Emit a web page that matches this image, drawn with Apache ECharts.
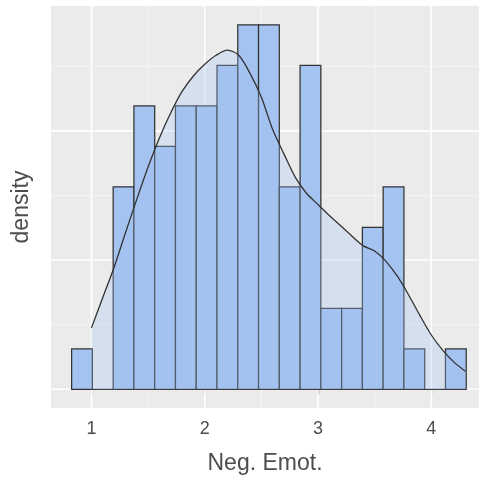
<!DOCTYPE html>
<html>
<head>
<meta charset="utf-8">
<script src="https://cdn.jsdelivr.net/npm/echarts@6/dist/echarts.min.js"></script>
<style>
html,body{margin:0;padding:0;background:#ffffff;}
#chart{width:479px;height:487px;}
</style>
</head>
<body>
<div id="chart"></div>
<script>
// Histogram: counts per bin, bins of equal width
const binCounts = [1, 0, 5, 7, 6, 7, 7, 8, 9, 9, 5, 8, 2, 2, 4, 5, 1, 0, 1];
const binStart = 0.825;
const binWidth = 3.3 / 18;

// Kernel density curve
const densityX = [1.0, 1.1, 1.2, 1.3, 1.4, 1.5, 1.6, 1.7, 1.8, 1.9, 2.0, 2.1, 2.2, 2.3, 2.4, 2.5, 2.6,
                  2.7, 2.8, 2.9, 3.0, 3.1, 3.2, 3.3, 3.4, 3.5, 3.6, 3.7, 3.8, 3.9, 4.0, 4.1, 4.2, 4.3];
const densityY = [0.095, 0.142, 0.189, 0.242, 0.294, 0.344, 0.389, 0.428, 0.461, 0.485, 0.503, 0.517, 0.525, 0.517,
                  0.489, 0.452, 0.402, 0.364, 0.328, 0.303, 0.286, 0.269, 0.253, 0.237, 0.222, 0.214, 0.198,
                  0.175, 0.146, 0.114, 0.084, 0.0605, 0.042, 0.028];

// Axis ticks / grid breaks
const xTickValues = [1, 2, 3, 4];
const xMinorBreaks = [1.5, 2.5, 3.5];
const yMajorBreaks = [0, 0.2, 0.4];
const yMinorBreaks = [0.1, 0.3, 0.5];

const nObs = binCounts.reduce((a, b) => a + b, 0);
const histData = binCounts.map((c, i) => [
  binStart + i * binWidth,
  binStart + (i + 1) * binWidth,
  c / (nObs * binWidth)
]);
const densityData = densityX.map((x, i) => [x, densityY[i]]);

const gridLineData = []
  .concat(xTickValues.map(v => [v, 0, 1]))
  .concat(xMinorBreaks.map(v => [v, 0, 0]))
  .concat(yMajorBreaks.map(v => [v, 1, 1]))
  .concat(yMinorBreaks.map(v => [v, 1, 0]));

const FONT = '"Liberation Sans", Arial, Helvetica, sans-serif';

const chart = echarts.init(document.getElementById('chart'), null, {renderer: 'canvas'});
chart.setOption({
  animation: false,
  backgroundColor: '#ffffff',
  grid: {
    left: 51, right: 0, top: 6, bottom: 79,
    show: true, backgroundColor: '#ebebeb', borderWidth: 0
  },
  xAxis: {
    type: 'value',
    min: 0.643, max: 4.421,
    name: 'Neg. Emot.',
    nameLocation: 'middle',
    nameGap: 44,
    nameTextStyle: {fontFamily: FONT, fontSize: 23, color: '#4d4d4d'},
    axisLine: {show: false},
    axisTick: {show: true, customValues: xTickValues, length: 5, lineStyle: {color: '#333333', width: 1.2}},
    axisLabel: {show: true, customValues: xTickValues, fontFamily: FONT, fontSize: 18, color: '#4d4d4d', margin: 12},
    splitLine: {show: false},
    minorSplitLine: {show: false}
  },
  yAxis: {
    type: 'value',
    min: -0.029, max: 0.5933,
    name: 'density',
    nameLocation: 'middle',
    nameRotate: 90,
    nameGap: 18,
    nameTextStyle: {fontFamily: FONT, fontSize: 23, color: '#4d4d4d'},
    axisLine: {show: false},
    axisTick: {show: false},
    axisLabel: {show: false},
    splitLine: {show: false}
  },
  series: [
    {
      type: 'custom',
      name: 'grid',
      z: 1,
      silent: true,
      clip: true,
      data: gridLineData,
      encode: {x: 0},
      renderItem: function (params, api) {
        const cs = params.coordSys;
        const v = api.value(0), horiz = api.value(1), major = api.value(2);
        const style = {stroke: major ? '#ffffff' : '#f7f7f7', lineWidth: major ? 1.6 : 0.8};
        if (!horiz) {
          const x = api.coord([v, 0])[0];
          return {type: 'line', shape: {x1: x, y1: cs.y, x2: x, y2: cs.y + cs.height}, style: style};
        }
        const y = api.coord([1, v])[1];
        return {type: 'line', shape: {x1: cs.x, y1: y, x2: cs.x + cs.width, y2: y}, style: style};
      }
    },
    {
      type: 'custom',
      name: 'histogram',
      z: 2,
      data: histData,
      encode: {x: [0, 1], y: 2},
      renderItem: function (params, api) {
        const p0 = api.coord([api.value(0), 0]);
        const p1 = api.coord([api.value(1), api.value(2)]);
        return {
          type: 'rect',
          shape: {x: p0[0], y: p1[1], width: p1[0] - p0[0], height: p0[1] - p1[1]},
          style: {fill: '#a4c3f0', stroke: '#333333', lineWidth: 1.25}
        };
      }
    },
    {
      type: 'line',
      name: 'density',
      z: 3,
      data: densityData,
      showSymbol: false,
      smooth: 0.3,
      lineStyle: {color: '#333333', width: 1.3},
      areaStyle: {color: 'rgba(164,195,240,0.42)'}
    }
  ]
});
</script>
</body>
</html>
